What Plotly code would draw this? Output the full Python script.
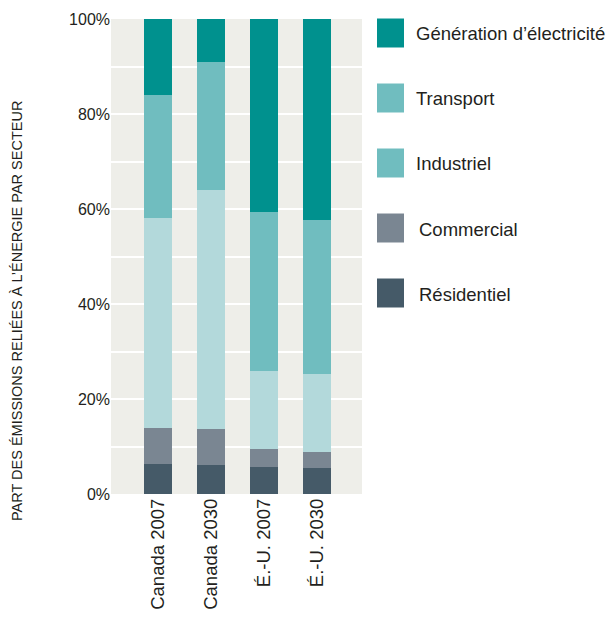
import plotly.graph_objects as go

categories = ["Canada 2007", "Canada 2030", "É.-U. 2007", "É.-U. 2030"]
residentiel = [6.3, 6.1, 5.7, 5.5]
commercial = [7.6, 7.6, 3.8, 3.3]
industriel = [44.2, 50.3, 16.4, 16.5]
transport = [25.9, 26.9, 33.5, 32.4]
generation = [16.0, 9.1, 40.6, 42.3]

series = [
    ("Résidentiel", residentiel, "#455a68"),
    ("Commercial", commercial, "#7a8692"),
    ("Industriel", industriel, "#b3d9db"),
    ("Transport", transport, "#70bdbf"),
    ("Génération d’électricité", generation, "#00918e"),
]
# legend swatch colours as printed in the original (Industriel shown with the Transport tone)
legend_items = [
    ("Génération d’électricité", "#00918e", 0),
    ("Transport", "#70bdbf", 0),
    ("Industriel", "#70bdbf", 0),
    ("Commercial", "#7a8692", 3),
    ("Résidentiel", "#455a68", 3),
]
y_ticks = [0, 10, 20, 30, 40, 50, 60, 70, 80, 90, 100]
y_ticktext = ["0%", "", "20%", "", "40%", "", "60%", "", "80%", "", "100%"]

FONT = "Liberation Sans, Arial, sans-serif"
TXT = "#231f20"

fig = go.Figure()
for name, vals, col in series:
    fig.add_trace(go.Bar(x=categories, y=vals, name=name, marker=dict(color=col, line=dict(width=0)),
                         width=0.53, showlegend=False))

W, H = 612, 625
L, R, T, B = 111, 250, 19, 131
pw, ph = W - L - R, H - T - B

def px_x(x):
    return (x - L) / pw

def px_y(y):
    return (H - B - y) / ph

shapes = []
annotations = []
for i, (name, col, indent) in enumerate(legend_items):
    cy = 33 + 65 * i
    shapes.append(dict(type="rect", xref="paper", yref="paper",
                       x0=px_x(377), x1=px_x(404), y0=px_y(cy + 14.5), y1=px_y(cy - 14.5),
                       fillcolor=col, line=dict(width=0)))
    annotations.append(dict(xref="paper", yref="paper", x=px_x(414 + indent), y=px_y(cy + 1),
                            xanchor="left", yanchor="middle", text=name, showarrow=False,
                            font=dict(family=FONT, size=18.5, color=TXT)))

annotations.append(dict(xref="paper", yref="paper", x=px_x(17), y=px_y(311),
                        xanchor="center", yanchor="middle", textangle=-90,
                        text="PART DES ÉMISSIONS RELIÉES À L’ÉNERGIE PAR SECTEUR", showarrow=False,
                        font=dict(family=FONT, size=14.5, color=TXT)))

fig.update_layout(
    width=W, height=H,
    margin=dict(l=L, r=R, t=T, b=B),
    barmode="stack",
    paper_bgcolor="white",
    plot_bgcolor="#eeeee9",
    showlegend=False,
    shapes=shapes,
    annotations=annotations,
    font=dict(family=FONT, color=TXT),
)
fig.update_xaxes(range=[-0.89, 3.86], tickangle=-90, showgrid=False, zeroline=False, automargin=False,
                 showline=False, ticks="", tickfont=dict(family=FONT, size=18.5, color=TXT))
fig.update_yaxes(range=[0, 100], tickvals=y_ticks, ticktext=y_ticktext, showgrid=True, automargin=False,
                 gridcolor="white", gridwidth=2, zeroline=False, showline=False, ticks="",
                 tickfont=dict(family=FONT, size=16, color=TXT))

fig.write_html("out.html")
